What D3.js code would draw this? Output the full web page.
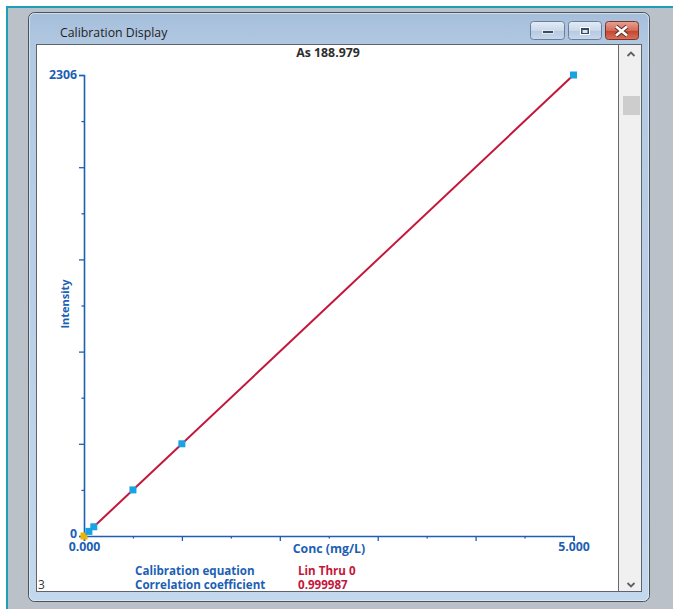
<!DOCTYPE html>
<html>
<head>
<meta charset="utf-8">
<script src="https://cdn.jsdelivr.net/npm/d3@7/dist/d3.min.js"></script>
<style>
  html, body { margin: 0; padding: 0; background: #ffffff; }
  svg { display: block; font-family: "Open Sans", "Noto Sans", sans-serif; }
</style>
</head>
<body>
<div id="chart"></div>
<script>
// --- Data ---
const element = "As 188.979";
const concs = [0, 0.05, 0.1, 0.5, 1.0, 5.0];          // mg/L
const intensities = [0, 23.1, 46.2, 230.5, 461.3, 2306];
const pointKinds = ["blank", "std", "std", "std", "std", "std"];
const xLabels = ["0.000", "5.000"];
const yLabels = ["0", "2306"];
const infoNames = ["Calibration equation", "Correlation coefficient"];
const infoValues = ["Lin Thru 0", "0.999987"];
const sampleCount = "3";

const W = 673, H = 609;
const blue = "#1c5fb5";
const red = "#c4163a";
const font = "'Open Sans', sans-serif";

const svg = d3.select("#chart").append("svg")
    .attr("width", W)
    .attr("height", H);

const defs = svg.append("defs");
function vgrad(id, stops) {
    const g = defs.append("linearGradient").attr("id", id)
        .attr("x1", 0).attr("y1", 0).attr("x2", 0).attr("y2", 1);
    stops.forEach(s => g.append("stop").attr("offset", s[0]).attr("stop-color", s[1]));
}
vgrad("frameGrad", [[0, "#a4bedb"], [0.06, "#b3c9e2"], [1, "#c3d7ed"]]);
vgrad("btnGrad", [[0, "#e4edf7"], [0.5, "#c9d8ea"], [0.51, "#b4c8e0"], [1, "#c8d9ec"]]);
vgrad("closeGrad", [[0, "#e9a294"], [0.5, "#d26a55"], [0.51, "#c2432c"], [1, "#d7735c"]]);

// --- Desktop / window chrome ---
svg.append("rect").attr("x", 7).attr("y", 7).attr("width", W - 7).attr("height", H - 7)
    .attr("fill", "#bac1c9");
svg.append("line").attr("x1", 6).attr("x2", W).attr("y1", 7).attr("y2", 7)
    .attr("stroke", "#1aa0b8").attr("stroke-width", 2);
svg.append("line").attr("x1", 7).attr("x2", 7).attr("y1", 6).attr("y2", H)
    .attr("stroke", "#1aa0b8").attr("stroke-width", 2);

svg.append("rect").attr("x", 28.5).attr("y", 12.5).attr("width", 621).attr("height", 589)
    .attr("rx", 6).attr("fill", "url(#frameGrad)").attr("stroke", "#4a525c");
svg.append("rect").attr("x", 29.5).attr("y", 13.5).attr("width", 619).attr("height", 587)
    .attr("rx", 5).attr("fill", "none").attr("stroke", "#e2ecf6").attr("stroke-opacity", 0.7);

svg.append("text").attr("x", 60).attr("y", 36.5)
    .attr("font-size", 12.3).attr("fill", "#1e1e1e")
    .text("Calibration Display");

// caption buttons
const buttons = [
    { x: 530, w: 34, fill: "url(#btnGrad)", stroke: "#6d7f98" },
    { x: 568, w: 33, fill: "url(#btnGrad)", stroke: "#6d7f98" },
    { x: 605, w: 33, fill: "url(#closeGrad)", stroke: "#7b3327" }
];
svg.selectAll("rect.btn").data(buttons).join("rect").attr("class", "btn")
    .attr("x", d => d.x + 0.5).attr("y", 21.5).attr("width", d => d.w).attr("height", 18)
    .attr("rx", 3).attr("fill", d => d.fill).attr("stroke", d => d.stroke);
svg.append("rect").attr("x", 542.5).attr("y", 30.5).attr("width", 11).attr("height", 3)
    .attr("fill", "#3a4a60").attr("stroke", "#ffffff").attr("stroke-width", 0.8);
svg.append("rect").attr("x", 580.5).attr("y", 27.5).attr("width", 9).attr("height", 7)
    .attr("fill", "#3a4a60").attr("stroke", "#ffffff").attr("stroke-width", 1);
svg.append("rect").attr("x", 582.5).attr("y", 30).attr("width", 5).attr("height", 3)
    .attr("fill", "#dce6f2");
svg.append("path").attr("d", "M616,26.5 L627,35.5 M627,26.5 L616,35.5")
    .attr("stroke", "#5a2a22").attr("stroke-width", 4.2);
svg.append("path").attr("d", "M616,26.5 L627,35.5 M627,26.5 L616,35.5")
    .attr("stroke", "#ffffff").attr("stroke-width", 2.6);

// client area + scrollbar
svg.append("rect").attr("x", 36.5).attr("y", 44.5).attr("width", 605).attr("height", 547)
    .attr("fill", "#ffffff").attr("stroke", "#5e646b");
svg.append("rect").attr("x", 619).attr("y", 45).attr("width", 22).attr("height", 546)
    .attr("fill", "#f0f0f0");
svg.append("line").attr("x1", 618.5).attr("x2", 618.5).attr("y1", 45).attr("y2", 591)
    .attr("stroke", "#6a6a6a");
svg.append("rect").attr("x", 623).attr("y", 96).attr("width", 17).attr("height", 19)
    .attr("fill", "#cdcdcd");
svg.append("path").attr("d", "M627.5,56 L631,52.5 L634.5,56")
    .attr("fill", "none").attr("stroke", "#606060").attr("stroke-width", 1.8);
svg.append("path").attr("d", "M627.5,583 L631,586.5 L634.5,583")
    .attr("fill", "none").attr("stroke", "#606060").attr("stroke-width", 1.8);

// --- Chart ---
const x = d3.scaleLinear().domain([0, d3.max(concs)]).range([84, 573.5]);
const y = d3.scaleLinear().domain([0, d3.max(intensities)]).range([536, 75]);

svg.append("text").attr("x", 328).attr("y", 57).attr("text-anchor", "middle")
    .attr("font-size", 12.3).attr("font-weight", 700).attr("fill", "#2e2e2e")
    .text(element);

// x axis
const xTicks = d3.range(0, 11).map(i => i * d3.max(concs) / 10);
const xAxis = svg.append("g").attr("transform", `translate(0,${y(0)})`)
    .call(d3.axisBottom(x).tickValues(xTicks).tickSizeOuter(0).tickSize(5)
        .tickFormat((d, i) => i === 0 ? xLabels[0] : i === xTicks.length - 1 ? xLabels[1] : ""));
xAxis.select(".domain").attr("stroke", blue).attr("stroke-width", 1.6);
xAxis.selectAll(".tick line").attr("stroke", blue).attr("stroke-width", 1.3)
    .attr("y2", (d, i) => i % 2 === 0 ? 5 : 2.5);
xAxis.selectAll(".tick text").attr("y", 14.5).attr("dy", 0)
    .attr("font-family", font).attr("font-size", 12.3).attr("font-weight", 700)
    .attr("fill", blue);

// y axis
const yTicks = d3.range(0, 11).map(i => i * d3.max(intensities) / 10);
const yAxis = svg.append("g").attr("transform", `translate(${x(0)},0)`)
    .call(d3.axisLeft(y).tickValues(yTicks).tickSizeOuter(0).tickSize(5)
        .tickFormat((d, i) => i === 0 ? yLabels[0] : i === yTicks.length - 1 ? yLabels[1] : ""));
yAxis.select(".domain").attr("stroke", blue).attr("stroke-width", 1.6);
yAxis.selectAll(".tick line").attr("stroke", blue).attr("stroke-width", 1.3)
    .attr("x2", (d, i) => i % 2 === 0 ? -5 : -2.5);
yAxis.selectAll(".tick text").attr("x", -7)
    .attr("dy", (d, i) => i === 0 ? "0.12em" : "0.25em")
    .attr("font-family", font).attr("font-size", 12.3).attr("font-weight", 700)
    .attr("fill", blue);

svg.append("text").attr("transform", "translate(69,304) rotate(-90)")
    .attr("text-anchor", "middle").attr("font-size", 11).attr("font-weight", 700)
    .attr("fill", blue).text("Intensity");
svg.append("text").attr("x", 329).attr("y", 552.5).attr("text-anchor", "middle")
    .attr("font-size", 12.3).attr("font-weight", 700).attr("fill", blue)
    .text("Conc (mg/L)");

// linear fit through zero
const slope = d3.sum(concs, (c, i) => c * intensities[i]) / d3.sum(concs, c => c * c);
const fitX = [0, d3.max(concs)];
svg.append("path")
    .attr("d", d3.line().x(d => x(d)).y(d => y(slope * d))(fitX))
    .attr("fill", "none").attr("stroke", red).attr("stroke-width", 2);

// standards
const pts = concs.map((c, i) => ({ c, v: intensities[i], kind: pointKinds[i] }));
svg.selectAll("rect.pt").data(pts).join("rect").attr("class", "pt")
    .attr("x", d => x(d.c) - 3.5).attr("y", d => y(d.v) - 3.5)
    .attr("width", 7).attr("height", 7)
    .attr("fill", d => d.kind === "blank" ? "#f0b400" : "#1aa3e3");

// info lines
infoNames.forEach((name, i) => {
    svg.append("text").attr("x", 135).attr("y", 574.5 + i * 14)
        .attr("font-size", 11.6).attr("font-weight", 700).attr("fill", blue).text(name);
    svg.append("text").attr("x", 298).attr("y", 574.5 + i * 14)
        .attr("font-size", 11.6).attr("font-weight", 700).attr("fill", red).text(infoValues[i]);
});
svg.append("text").attr("x", 38).attr("y", 588.5)
    .attr("font-size", 12).attr("fill", "#3a3a3a").text(sampleCount);
</script>
</body>
</html>
